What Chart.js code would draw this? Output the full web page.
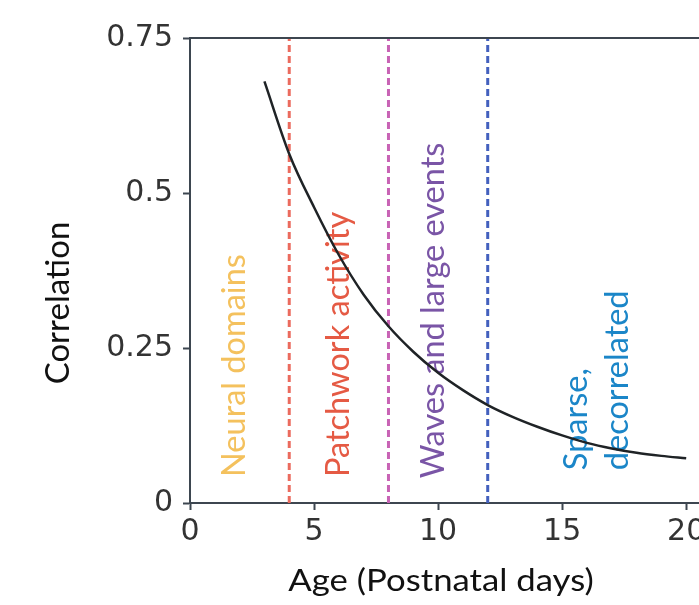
<!DOCTYPE html>
<html>
<head>
<meta charset="utf-8">
<script src="https://cdn.jsdelivr.net/npm/chart.js@4.4.1/dist/chart.umd.min.js"></script>
<style>
  html, body { margin: 0; padding: 0; overflow: hidden; background: #fff; }
  #wrap { width: 720px; height: 605px; }
</style>
</head>
<body>
<div id="wrap"><canvas id="chart"></canvas></div>
<script>
// curve
const ages = [3, 4, 5, 6, 7, 8, 9, 10, 11, 12, 13, 14, 15, 16, 17, 18, 19, 20]
const correlation = [0.680, 0.563, 0.477, 0.400, 0.336, 0.285, 0.244, 0.210, 0.182, 0.158,
                     0.139, 0.123, 0.109, 0.097, 0.088, 0.081, 0.076, 0.072]

// stage boundaries (dashed lines)
const stageAges = [4, 8, 12]
const stageColors = ["#eb6b5e", "#c863b5", "#4360be"]

// stage labels
const stageLabels = [["Neural domains"], ["Patchwork activity"], ["Waves and large events"], ["Sparse,", "decorrelated"]]
const labelAges = [1.81, 5.97, 9.8, 16.41]
const labelBase = [0.042, 0.042, 0.040, 0.053]
const labelColors = ["#f4c15d", "#e55a44", "#7a55a6", "#1b86c8"]

const xTicks = [0, 5, 10, 15, 20]
const yTicks = [0, 0.25, 0.5, 0.75]

const axisColor = "#3d4650"
const textFont = "Lato, 'Open Sans', sans-serif"

const overlay = {
    id: "overlay",
    beforeDatasetsDraw(chart) {
        const { ctx } = chart
        const { x, y } = chart.scales
        stageLabels.forEach((lines, i) => {
            ctx.save()
            ctx.translate(x.getPixelForValue(labelAges[i]), y.getPixelForValue(labelBase[i]))
            ctx.rotate(-Math.PI / 2)
            ctx.font = "32.5px " + textFont
            ctx.fillStyle = labelColors[i]
            ctx.textAlign = "left"
            ctx.textBaseline = "middle"
            lines.forEach((t, j) => ctx.fillText(t, 0, (j - (lines.length - 1) / 2) * 41))
            ctx.restore()
        })
    },
    afterDraw(chart) {
        const { ctx, chartArea } = chart
        ctx.save()
        // top and right spines
        ctx.strokeStyle = axisColor
        ctx.lineWidth = 2
        ctx.beginPath()
        ctx.moveTo(chartArea.left, chartArea.top)
        ctx.lineTo(chartArea.right, chartArea.top)
        ctx.lineTo(chartArea.right, chartArea.bottom)
        ctx.stroke()
        // axis titles
        ctx.fillStyle = "#111"
        ctx.textAlign = "center"
        ctx.textBaseline = "middle"
        ctx.save()
        ctx.translate(chartArea.left + 251, chartArea.bottom + 78)
        ctx.scale(1.12, 1)
        ctx.font = "31px " + textFont
        ctx.fillText("Age (Postnatal days)", 0, 0)
        ctx.restore()
        ctx.translate(chartArea.left - 132, 303)
        ctx.rotate(-Math.PI / 2)
        ctx.font = "33px " + textFont
        ctx.fillText("Correlation", 0, 0)
        ctx.restore()
    }
}

const datasets = [{
    data: ages.map((a, i) => ({ x: a, y: correlation[i] })),
    borderColor: "#1f2326",
    borderWidth: 2.5,
    pointRadius: 0,
    cubicInterpolationMode: "monotone",
}]
stageAges.forEach((a, i) => {
    datasets.push({
        data: [{ x: a, y: 0 }, { x: a, y: 0.75 }],
        borderColor: stageColors[i],
        borderWidth: 3,
        borderDash: [7, 4],
        pointRadius: 0,
    })
})

const tickFont = { family: "'DejaVu Sans', sans-serif", size: 30 }

new Chart(document.getElementById("chart"), {
    type: "line",
    data: { datasets },
    options: {
        responsive: true,
        maintainAspectRatio: false,
        animation: false,
        layout: { padding: { left: 0, top: 38, right: 9, bottom: 0 } },
        plugins: { legend: { display: false }, tooltip: { enabled: false } },
        scales: {
            x: {
                type: "linear",
                min: 0,
                max: 21,
                afterBuildTicks: s => { s.ticks = xTicks.map(v => ({ value: v })) },
                afterFit: s => { s.height = 102 },
                ticks: { font: tickFont, color: "#333", padding: 4, maxRotation: 0, autoSkip: false },
                grid: { drawOnChartArea: false, drawTicks: true, tickLength: 7, tickWidth: 2, color: axisColor },
                border: { display: true, color: axisColor, width: 2 },
            },
            y: {
                type: "linear",
                min: 0,
                max: 0.75,
                afterBuildTicks: s => { s.ticks = yTicks.map(v => ({ value: v })) },
                afterFit: s => { s.width = 190 },
                ticks: { font: tickFont, color: "#333", padding: 10, callback: v => String(v) },
                grid: { drawOnChartArea: false, drawTicks: true, tickLength: 7, tickWidth: 2, color: axisColor },
                border: { display: true, color: axisColor, width: 2 },
            },
        },
    },
    plugins: [overlay],
})
</script>
</body>
</html>
